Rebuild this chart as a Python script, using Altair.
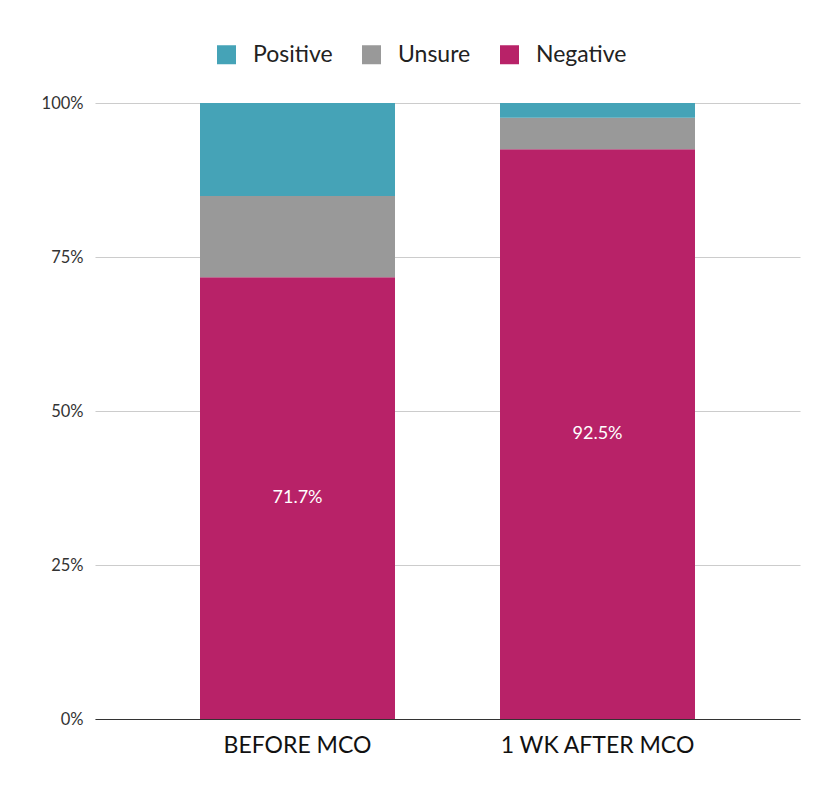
import altair as alt
import pandas as pd

periods = ["BEFORE MCO", "1 WK AFTER MCO"]
negative = [0.717, 0.925]
unsure = [0.132, 0.051]
positive = [0.151, 0.024]
sentiments = ["Positive", "Unsure", "Negative"]
colors = ["#45a3b7", "#999999", "#b82268"]

rows = []
for i, p in enumerate(periods):
    rows.append({"period": p, "sentiment": "Negative", "value": negative[i], "rank": 0})
    rows.append({"period": p, "sentiment": "Unsure", "value": unsure[i], "rank": 1})
    rows.append({"period": p, "sentiment": "Positive", "value": positive[i], "rank": 2})
df = pd.DataFrame(rows)

FONT = "Lato"

x_enc = alt.X("period:N", sort=periods, title=None,
              scale=alt.Scale(paddingInner=0.35, paddingOuter=0.35),
              axis=alt.Axis(labelAngle=0, labelFontSize=23, labelColor="#111111",
                            labelFont=FONT, ticks=False, labelPadding=15,
                            labelLimit=400, grid=False,
                            domainColor="#333333", domainWidth=1.2))

bars = alt.Chart(df).mark_bar().encode(
    x=x_enc,
    y=alt.Y("value:Q", stack="zero", title=None,
            scale=alt.Scale(domain=[0, 1], nice=False),
            axis=alt.Axis(values=[0, 0.25, 0.5, 0.75, 1], format=".0%",
                          domain=False, ticks=False, labelFontSize=16.5,
                          labelFont=FONT, labelColor="#333333", labelPadding=12,
                          gridColor="#cccccc", gridWidth=1.2)),
    color=alt.Color("sentiment:N",
                    scale=alt.Scale(domain=sentiments, range=colors),
                    legend=alt.Legend(title=None, orient="none", direction="horizontal",
                                      legendX=120, legendY=-60,
                                      symbolType="square", symbolSize=361,
                                      symbolStrokeWidth=0, labelFontSize=23,
                                      labelFont=FONT, labelColor="#222222",
                                      labelOffset=15, columnPadding=27)),
    order=alt.Order("rank:Q", sort="ascending"),
)

labels = alt.Chart(df).transform_filter(
    alt.datum.sentiment == "Negative"
).transform_calculate(
    mid="datum.value / 2"
).mark_text(color="white", fontSize=18, font=FONT).encode(
    x=alt.X("period:N", sort=periods),
    y=alt.Y("mid:Q"),
    text=alt.Text("value:Q", format=".1%"),
)

chart = alt.layer(bars, labels).properties(
    width=705, height=616,
    background="white",
    autosize=alt.AutoSizeParams(type="none"),
    padding={"left": 87, "top": 95, "right": 24, "bottom": 70},
).configure_view(stroke="transparent", strokeWidth=0)

chart.save("out.html", embed_options={"renderer": "svg", "actions": False})
